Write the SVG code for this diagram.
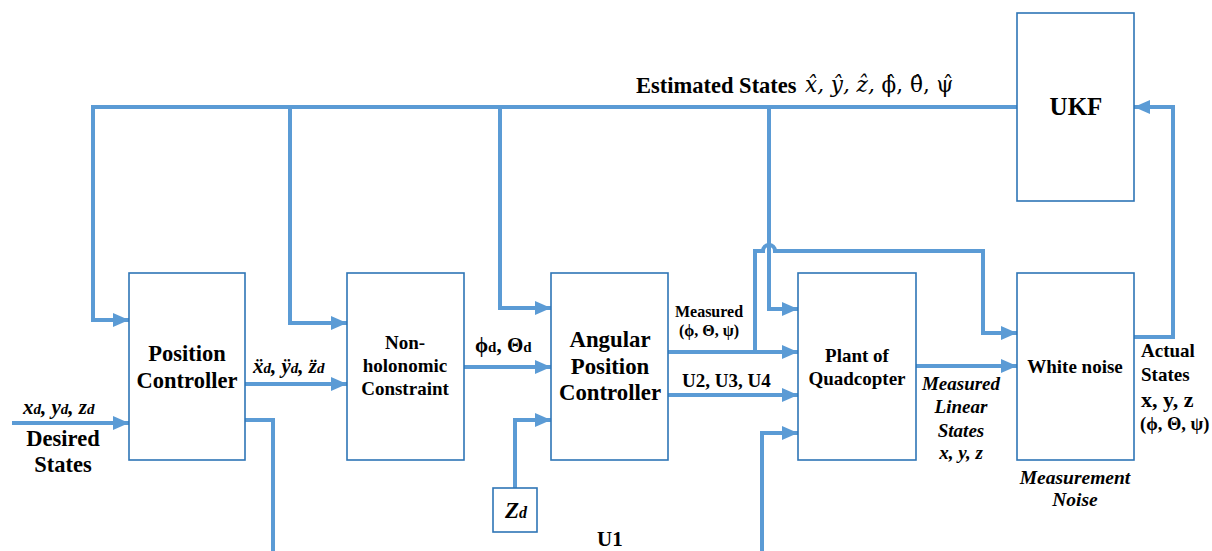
<svg xmlns="http://www.w3.org/2000/svg" width="1212" height="551" viewBox="0 0 1212 551" font-family="'Liberation Serif', 'Times New Roman', serif">
<defs>
<marker id="ah" viewBox="0 0 16 14" refX="16" refY="7" markerWidth="16" markerHeight="14" markerUnits="userSpaceOnUse" orient="auto">
<path d="M0,0 L16,7 L0,14 Z" fill="#5b9bd5"/>
</marker>
<style>
.box{fill:#fff;stroke:#2e75b6;stroke-width:1.6}
.ln{fill:none;stroke:#5b9bd5;stroke-width:4;stroke-linejoin:miter}
.ar{marker-end:url(#ah)}
text{font-family:'Liberation Serif', 'Times New Roman', serif;font-weight:bold;fill:#000}
.c{text-anchor:middle}
.it{font-style:italic}
.m{font-family:'DejaVu Serif', 'Liberation Serif', serif;font-weight:normal;font-style:italic}
</style>
</defs>
<rect width="1212" height="551" fill="#fff"/>
<g id="connectors">
<path class="ln" d="M1017 107 H93 V320 H113" />
<path class="ln ar" d="M93 320 H129"/>
<path class="ln ar" d="M290 107 V323 H347"/>
<path class="ln ar" d="M500 107 V308 H551"/>
<path class="ln ar" d="M769 107 V309 H798"/>
<path class="ln ar" d="M12 423 H129"/>
<path class="ln ar" d="M245 384 H347"/>
<path class="ln" d="M245 420 H273 V551"/>
<path class="ln ar" d="M464 367 H551"/>
<path class="ln ar" d="M515 488 V420 H551"/>
<path class="ln ar" d="M668 352 H798"/>
<path class="ln" d="M755 352 V251 H763 A6 6 0 0 1 775 251 H983 V333 H1000"/>
<path class="ln ar" d="M983 333 H1017"/>
<path class="ln ar" d="M668 395 H798"/>
<path class="ln ar" d="M762 551 V433 H798"/>
<path class="ln ar" d="M916 366 H1017"/>
<path class="ln ar" d="M1134 337 H1173 V107 H1134"/>
</g>
<g id="position-controller">
<rect class="box" x="129" y="273" width="116" height="187"/>
<text class="c" x="187" y="361" font-size="22.5">Position</text>
<text class="c" x="187" y="388" font-size="22.5">Controller</text>
</g>
<g id="non-holonomic">
<rect class="box" x="347" y="273" width="117" height="187"/>
<text class="c" x="405" y="349" font-size="19">Non-</text>
<text class="c" x="405" y="372" font-size="19">holonomic</text>
<text class="c" x="405" y="395" font-size="19">Constraint</text>
</g>
<g id="angular-position-controller">
<rect class="box" x="551" y="273" width="117" height="187"/>
<text class="c" x="610" y="347" font-size="22.8">Angular</text>
<text class="c" x="610" y="374" font-size="22.8">Position</text>
<text class="c" x="610" y="400" font-size="22.8">Controller</text>
</g>
<g id="plant">
<rect class="box" x="798" y="273" width="118" height="187"/>
<text class="c" x="857" y="362" font-size="19">Plant of</text>
<text class="c" x="857" y="385" font-size="19">Quadcopter</text>
</g>
<g id="white-noise">
<rect class="box" x="1017" y="273" width="117" height="187"/>
<text class="c" x="1075" y="373" font-size="19">White noise</text>
</g>
<g id="ukf">
<rect class="box" x="1017" y="13" width="117" height="188"/>
<text class="c" x="1076" y="115" font-size="25">UKF</text>
</g>
<g id="zd">
<rect class="box" x="493" y="488" width="44" height="44"/>
<text class="c it" x="516" y="518" font-size="23">Z<tspan font-size="16">d</tspan></text>
</g>
<g id="labels">
<text x="636" y="93" font-size="22.5">Estimated States</text>
<text class="m" x="805" y="92" font-size="21.5">x̂, ŷ, ẑ, <tspan font-style="normal">ϕ̂, θ̂, ψ̂</tspan></text>
<text class="it" x="253" y="373" font-size="21">ẍ<tspan font-size="15">d</tspan>, ÿ<tspan font-size="15">d</tspan>, z̈<tspan font-size="15">d</tspan></text>
<text class="it" x="23" y="414" font-size="21">x<tspan font-size="15">d</tspan>, y<tspan font-size="15">d</tspan>, z<tspan font-size="15">d</tspan></text>
<text class="c" x="63" y="446" font-size="22.5">Desired</text>
<text class="c" x="63" y="472" font-size="22.5">States</text>
<text x="475" y="352" font-size="21">ϕ<tspan font-size="15">d</tspan>, Θ<tspan font-size="15">d</tspan></text>
<text class="c" x="709" y="317" font-size="16">Measured</text>
<text class="c" x="709" y="336" font-size="16">(ϕ, Θ, ψ)</text>
<text x="682" y="387" font-size="19">U2, U3, U4</text>
<text class="c it" x="961" y="390" font-size="19">Measured</text>
<text class="c it" x="961" y="413" font-size="19">Linear</text>
<text class="c it" x="961" y="437" font-size="19">States</text>
<text class="c it" x="961" y="459" font-size="19">x, y, z</text>
<text x="1141" y="357" font-size="19">Actual</text>
<text x="1141" y="381" font-size="19">States</text>
<text x="1141" y="407" font-size="22">x, y, z</text>
<text x="1140" y="430" font-size="18.5">(ϕ, Θ, ψ)</text>
<text class="c it" x="1075" y="484" font-size="19.5">Measurement</text>
<text class="c it" x="1075" y="506" font-size="19.5">Noise</text>
<text x="597" y="546" font-size="21">U1</text>
</g>
</svg>
